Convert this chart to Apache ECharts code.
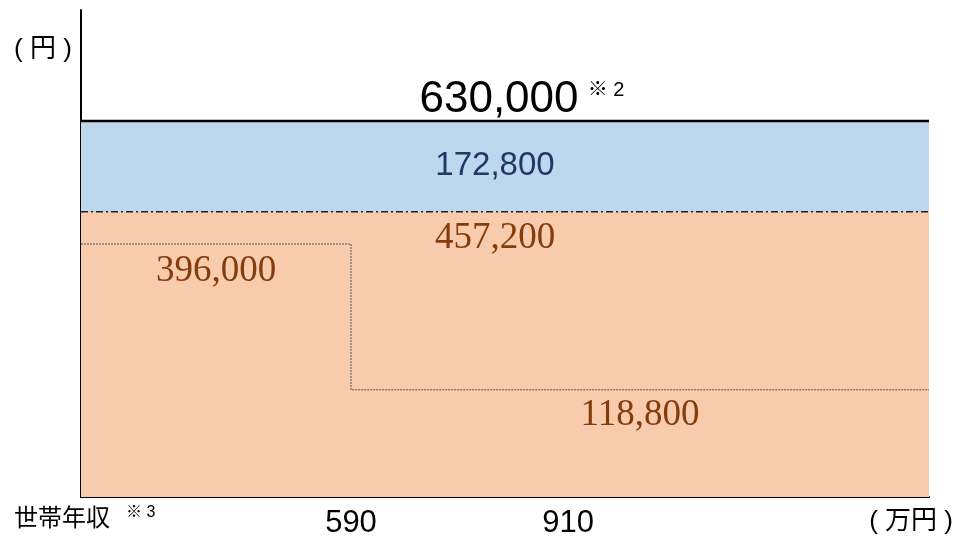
<!DOCTYPE html>
<html>
<head>
<meta charset="utf-8">
<script src="https://cdn.jsdelivr.net/npm/echarts@6/dist/echarts.min.js"></script>
<style>
html,body{margin:0;padding:0;background:#fff;}
#c{width:955px;height:539px;}
</style>
</head>
<body>
<div id="c"></div>
<script>
// ---- data (yen / 万円) ----
const incomeThresholds = [590, 910];          // 世帯年収 thresholds (万円)
const tickLabels = ['590', '910'];
const totalSupport = 630000;                   // ※2
const publicPart = 172800;                     // blue band
const basePart = 457200;                       // orange band
const privateAddOn = [396000, 118800];         // below 590 / above 590

// schematic axis extents (hidden ends)
const xMin = 192, xMax = 1442;
const yMin = -85000, yMax = 841000;

const sans = "'Liberation Sans','Noto Sans CJK JP',sans-serif";
const serif = "'Liberation Serif','Noto Serif CJK JP',serif";
const fmt = v => v.toLocaleString('en-US');

const txt = (x, y, text, font, fill, align) => ({
  type: 'text', x: x, y: y, z: 100, silent: true,
  style: { text: text, font: font, fill: fill, textAlign: align || 'center', textVerticalAlign: 'middle' }
});

const chart = echarts.init(document.getElementById('c'));
chart.setOption({
  animation: false,
  backgroundColor: '#fff',
  grid: { left: 81, right: 26, top: 10, bottom: 38 },
  xAxis: {
    type: 'value', min: xMin, max: xMax,
    axisLine: { show: true, onZero: false, lineStyle: { color: '#000', width: 2 } },
    axisTick: { show: false },
    splitLine: { show: false },
    axisLabel: {
      customValues: incomeThresholds,
      formatter: v => tickLabels[incomeThresholds.indexOf(v)] || '',
      fontSize: 31, color: '#000', fontFamily: sans, margin: 11
    }
  },
  yAxis: {
    type: 'value', min: yMin, max: yMax,
    axisLine: { show: true, onZero: false, lineStyle: { color: '#000', width: 2 } },
    axisTick: { show: false },
    axisLabel: { show: false },
    splitLine: { show: false }
  },
  series: [
    {
      type: 'line', symbol: 'none', silent: true,
      data: [[xMin, totalSupport], [xMax, totalSupport]],
      lineStyle: { color: '#000', width: 2.5 },
      areaStyle: { color: '#BDD7EE', opacity: 1, origin: 'start' },
      z: 1
    },
    {
      type: 'line', symbol: 'none', silent: true,
      data: [[xMin, basePart], [xMax, basePart]],
      lineStyle: { color: '#222', width: 1.5, type: [7, 3, 2, 3] },
      areaStyle: { color: '#F8CBAD', opacity: 1, origin: 'start' },
      z: 2
    },
    {
      type: 'line', symbol: 'none', silent: true, step: 'end',
      data: [[xMin, privateAddOn[0]], [incomeThresholds[0], privateAddOn[1]], [xMax, privateAddOn[1]]],
      lineStyle: { color: '#555', width: 1, type: [2, 1] },
      z: 3
    }
  ],
  graphic: [
    txt(43, 50, '( 円 )', "26px " + sans, '#000'),
    txt(499, 100, fmt(totalSupport), "44px " + sans, '#000'),
    txt(606, 90, '※ 2', "20px " + sans, '#000'),
    txt(495, 166, fmt(publicPart), "33px " + sans, '#203864'),
    txt(495, 238, fmt(basePart), "37px " + serif, '#843C0C'),
    txt(216, 271, fmt(privateAddOn[0]), "37px " + serif, '#843C0C'),
    txt(640, 415, fmt(privateAddOn[1]), "37px " + serif, '#843C0C'),
    txt(14, 519, '世帯年収', "24px " + sans, '#000', 'left'),
    txt(126, 513, '※ 3', "16px " + sans, '#000', 'left'),
    txt(953, 522, '( 万円 )', "26px " + sans, '#000', 'right')
  ]
});
</script>
</body>
</html>
